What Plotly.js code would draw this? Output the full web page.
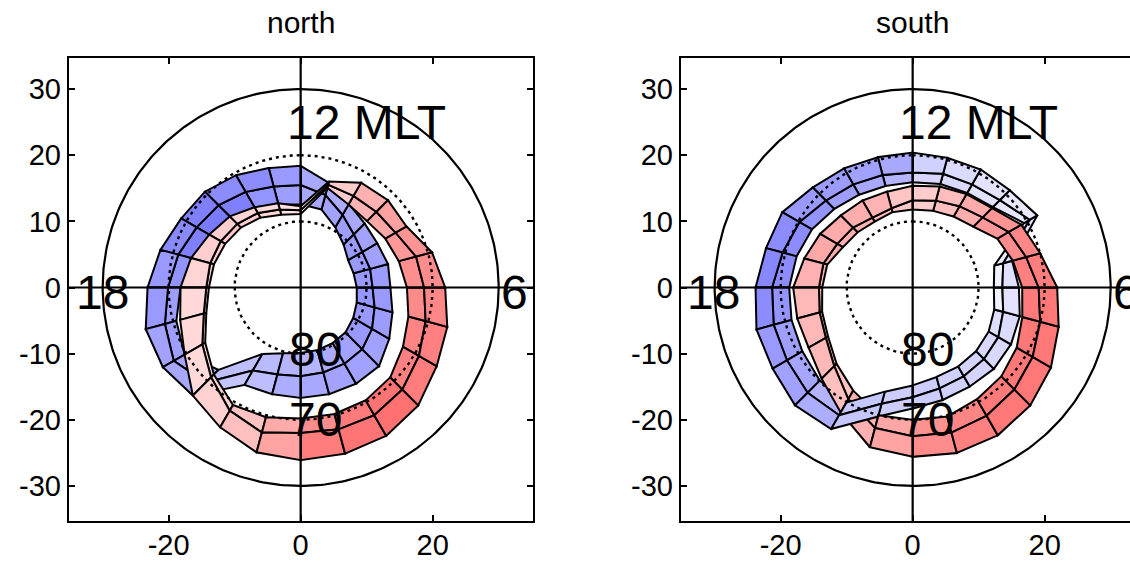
<!DOCTYPE html>
<html><head><meta charset="utf-8">
<script src="https://cdn.plot.ly/plotly-3.0.1.min.js"></script>
<style>body{margin:0;background:#fff}#chart{width:1130px;height:565px}</style>
</head><body><div id="chart"></div>
<script>
// ---------- DATA ----------
const panelTitles = ['north', 'south'];
const mltEdges = [0,1,2,3,4,5,6,7,8,9,10,11,12,13,14,15,16,17,18,19,20,21,22,23,24];
const xTickVals = [-20, 0, 20];
const xTickText = ['-20', '0', '20'];
const yTickVals = [-30, -20, -10, 0, 10, 20, 30];
const yTickText = ['-30', '-20', '-10', '0', '10', '20', '30'];
const circleColat = [30, 20, 10];           // 60, 70, 80 deg latitude
const mltLabels = ['12 MLT', '18', '6'];
const latLabels = ['80', '70'];

// colatitude boundaries (deg) at each MLT edge: inner, middle, outer
const nBlueIn  = [9.9, 9.8, 9.7, 9.6, 9.2, 8.8, 8.5, 8.3, 8.3, 9.2, 10.5, 12.2, 12.6, 13.0, 14.0, 14.9, 15.7, 16.8, 18.2, 19.5, 20.3, 17.6, 11.6, 10.3, 9.9];
const nBlueMid = [13.4, 13.3, 13.3, 13.2, 12.5, 11.6, 10.9, 10.9, 10.8, 11.4, 12.7, 14.5, 15.5, 15.8, 16.7, 17.6, 18.2, 19.2, 20.1, 21.3, 22.2, 20.3, 14.5, 13.6, 13.4];
const nBlueOut = [16.7, 16.7, 16.8, 16.8, 15.5, 14.4, 13.6, 13.7, 13.4, 13.7, 14.6, 16.4, 18.4, 18.7, 19.6, 20.5, 20.9, 22.0, 23.2, 24.3, 24.1, 23.1, 17.0, 16.7, 16.7];
const nRedIn   = [19.8, 19.8, 19.7, 19.2, 17.9, 16.9, 16.1, 15.4, 14.8, 14.2, 14.5, 15.6, 11.1, 11.4, 12.2, 12.8, 13.2, 13.6, 13.9, 14.8, 16.7, 18.6, 20.5, 20.3, 19.8];
const nRedMid  = [22.0, 22.2, 22.3, 21.8, 20.7, 19.6, 18.7, 18.1, 16.6, 16.2, 16.0, 16.1, 11.7, 12.2, 13.0, 13.6, 14.0, 14.2, 14.3, 15.2, 17.2, 19.2, 21.5, 22.7, 22.0];
const nRedOut  = [26.1, 26.0, 25.9, 25.2, 23.8, 23.0, 21.9, 20.6, 18.5, 18.7, 18.3, 16.6, 12.3, 13.2, 14.0, 15.2, 16.0, 17.2, 18.2, 18.9, 20.3, 23.1, 24.4, 25.8, 26.1];

const sBlueIn  = [14.8, 14.0, 13.8, 13.6, 13.3, 12.8, 12.3, 12.8, 19.5, 17.2, 16.5, 16.2, 15.9, 15.9, 16.2, 16.8, 17.6, 18.2, 18.7, 19.0, 19.3, 19.9, 20.1, 16.3, 14.8];
const sBlueMid = [16.6, 15.8, 15.5, 15.3, 15.0, 14.2, 13.6, 14.2, 20.5, 18.7, 18.0, 17.8, 17.4, 17.6, 18.0, 18.6, 19.8, 20.4, 21.3, 21.8, 22.0, 22.5, 22.3, 18.2, 16.6];
const sBlueOut = [18.3, 17.6, 17.3, 17.4, 17.2, 16.8, 16.1, 15.6, 21.8, 20.8, 20.6, 20.3, 20.4, 20.4, 20.8, 21.4, 22.8, 23.0, 23.8, 24.5, 24.5, 25.2, 24.7, 20.2, 18.3];
const sRedIn   = [20.0, 20.2, 19.5, 19.0, 18.2, 17.2, 16.6, 15.7, 14.8, 13.0, 12.4, 12.0, 11.8, 11.8, 11.5, 11.8, 12.2, 13.4, 13.7, 14.2, 14.8, 16.3, 18.0, 20.0, 20.0];
const sRedMid  = [22.5, 22.7, 22.4, 21.8, 21.0, 20.0, 19.1, 17.8, 16.8, 15.0, 14.2, 13.6, 13.2, 12.4, 12.2, 12.8, 13.2, 14.0, 14.2, 14.6, 15.2, 16.8, 19.5, 22.0, 22.5];
const sRedOut  = [25.6, 25.9, 25.8, 25.2, 24.2, 22.9, 21.9, 20.0, 19.0, 17.0, 16.3, 15.8, 15.4, 15.0, 15.2, 15.4, 16.2, 17.0, 18.1, 18.1, 18.2, 19.5, 21.8, 25.0, 25.6];

// current intensity per MLT bin (bin m spans MLT m..m+1), outer and inner layer
const nBlueOutV = [0.34,0.36,0.37,0.37,0.39,0.40,0.39,0.37,0.36,0.34,0.32,0.34,0.40,0.45,0.45,0.50,0.46,0.40,0.40,0.36,0.34,0.23,0.26,0.32];
const nBlueInV  = [0.29,0.33,0.36,0.40,0.40,0.41,0.40,0.40,0.40,0.38,0.36,0.34,0.38,0.42,0.50,0.52,0.50,0.42,0.38,0.38,0.35,0.25,0.27,0.29];
const nRedOutV  = [0.51,0.54,0.56,0.51,0.50,0.47,0.45,0.42,0.37,0.31,0.20,0.15,0.12,0.14,0.17,0.19,0.19,0.17,0.15,0.15,0.15,0.18,0.25,0.36];
const nRedInV   = [0.45,0.52,0.55,0.50,0.48,0.46,0.44,0.40,0.35,0.30,0.20,0.05,0.10,0.16,0.20,0.22,0.20,0.18,0.15,0.15,0.15,0.18,0.24,0.33];
const sBlueOutV = [0.20,0.18,0.17,0.15,0.14,0.11,0.12,0.12,0.09,0.11,0.14,0.18,0.34,0.37,0.39,0.40,0.45,0.47,0.45,0.40,0.37,0.32,0.22,0.20];
const sBlueInV  = [0.20,0.18,0.17,0.15,0.13,0.05,0.05,0.08,0.10,0.12,0.15,0.16,0.29,0.34,0.38,0.42,0.45,0.45,0.42,0.38,0.35,0.30,0.22,0.20];
const sRedOutV  = [0.45,0.50,0.53,0.53,0.53,0.53,0.51,0.47,0.42,0.33,0.26,0.20,0.23,0.30,0.32,0.33,0.34,0.31,0.28,0.28,0.28,0.25,0.31,0.36];
const sRedInV   = [0.43,0.48,0.52,0.53,0.53,0.52,0.50,0.45,0.40,0.32,0.25,0.20,0.22,0.28,0.30,0.32,0.33,0.30,0.27,0.26,0.26,0.24,0.30,0.35];

// ---------- BUILD ----------
function pt(r, mlt){ const a = (12 - mlt) * Math.PI / 12; return [r*Math.sin(a), r*Math.cos(a)]; }
function blueColor(v){ const c = Math.round(255*(1-v)); return 'rgb('+c+','+c+',255)'; }
function redColor(v){ const c = Math.round(255*(1-v)); return 'rgb(255,'+c+','+c+')'; }
const traces = [];
function cell(rA, rB, m, color, xa, ya){
  const p = [pt(rA[m], mltEdges[m]), pt(rA[m+1], mltEdges[m+1]), pt(rB[m+1], mltEdges[m+1]), pt(rB[m], mltEdges[m]), pt(rA[m], mltEdges[m])];
  traces.push({type:'scatter', mode:'lines', x:p.map(q=>q[0]), y:p.map(q=>q[1]), xaxis:xa, yaxis:ya,
    fill:'toself', fillcolor:color, line:{color:'#000', width:2}, hoverinfo:'skip', showlegend:false});
}
function ring(rIn, rMid, rOut, vIn, vOut, colorFn, xa, ya, bins){
  bins.forEach(m => { cell(rIn, rMid, m, colorFn(vIn[m]), xa, ya); cell(rMid, rOut, m, colorFn(vOut[m]), xa, ya); });
}
const allBins = [...Array(24).keys()];
// north: blue below red
ring(nBlueIn, nBlueMid, nBlueOut, nBlueInV, nBlueOutV, blueColor, 'x', 'y', allBins);
ring(nRedIn, nRedMid, nRedOut, nRedInV, nRedOutV, redColor, 'x', 'y', allBins);
// south: blue below red, except the blue cell crossing near midnight which lies on top
ring(sBlueIn, sBlueMid, sBlueOut, sBlueInV, sBlueOutV, blueColor, 'x2', 'y2', allBins.filter(m => m !== 22));
ring(sRedIn, sRedMid, sRedOut, sRedInV, sRedOutV, redColor, 'x2', 'y2', allBins);
ring(sBlueIn, sBlueMid, sBlueOut, sBlueInV, sBlueOutV, blueColor, 'x2', 'y2', [22]);

// latitude circles and axis cross
[['x','y'],['x2','y2']].forEach(([xa, ya]) => {
  circleColat.forEach((r, i) => {
    const xs = [], ys = [];
    for (let k = 0; k <= 360; k++){ const a = k*Math.PI/180; xs.push(r*Math.sin(a)); ys.push(r*Math.cos(a)); }
    traces.push({type:'scatter', mode:'lines', x:xs, y:ys, xaxis:xa, yaxis:ya, hoverinfo:'skip', showlegend:false,
      line:{color:'#000', width: i === 0 ? 2.2 : 2.4, dash: i === 0 ? 'solid' : '3px,4px'}});
  });
  traces.push({type:'scatter', mode:'lines', x:[-40, 40], y:[0, 0], xaxis:xa, yaxis:ya, hoverinfo:'skip', showlegend:false, line:{color:'#000', width:2.2}});
  traces.push({type:'scatter', mode:'lines', x:[0, 0], y:[-40, 40], xaxis:xa, yaxis:ya, hoverinfo:'skip', showlegend:false, line:{color:'#000', width:2.2}});
});

const font = 'Arial, "Liberation Sans", Helvetica, sans-serif';
const axBase = {showline:true, linecolor:'#000', linewidth:2.2, ticks:'inside', ticklen:6, tickwidth:2, tickcolor:'#000',
  showgrid:false, zeroline:false, fixedrange:true, tickfont:{family:font, size:29, color:'#000'}};
const xr = [-35.1, 35.2], yr = [-35.3, 34.7];
const layout = {
  width:1130, height:565, margin:{l:69, r:0, t:58, b:44}, paper_bgcolor:'#fff', plot_bgcolor:'#fff', showlegend:false,
  xaxis: Object.assign({}, axBase, {domain:[0, 0.4373], range:xr, tickvals:xTickVals, ticktext:xTickText, mirror:'ticks', anchor:'y', ticklabelstandoff:-3}),
  yaxis: Object.assign({}, axBase, {domain:[0, 1], range:yr, tickvals:yTickVals, ticktext:yTickText, mirror:'ticks', anchor:'x'}),
  xaxis2: Object.assign({}, axBase, {domain:[0.5768, 1], range:[-35.1, 32.93], tickvals:xTickVals, ticktext:xTickText, mirror:'ticks', anchor:'y2', ticklabelstandoff:-3}),
  yaxis2: Object.assign({}, axBase, {domain:[0, 1], range:yr, tickvals:yTickVals, ticktext:yTickText, mirror:false, anchor:'x2'}),
  annotations: []
};
[['x','y'],['x2','y2']].forEach(([xa, ya], i) => {
  layout.annotations.push({xref:xa, yref:'paper', x:0, y:1.076, text:panelTitles[i], showarrow:false, xanchor:'center', yanchor:'middle', font:{family:font, size:30, color:'#000'}});
  const big = {family:font, size:48, color:'#000'};
  layout.annotations.push({xref:xa, yref:ya, x:-2.4, y:25.0, text:mltLabels[0], showarrow:false, xanchor:'left', yanchor:'middle', font:big});
  layout.annotations.push({xref:xa, yref:ya, x:-30.1, y:-0.8, text:mltLabels[1], showarrow:false, xanchor:'center', yanchor:'middle', font:big});
  layout.annotations.push({xref:xa, yref:ya, x:32.4, y:-0.8, text:mltLabels[2], showarrow:false, xanchor:'center', yanchor:'middle', font:big});
  layout.annotations.push({xref:xa, yref:ya, x:2.3, y:-9.4, text:latLabels[0], showarrow:false, xanchor:'center', yanchor:'middle', font:big});
  layout.annotations.push({xref:xa, yref:ya, x:2.3, y:-20.0, text:latLabels[1], showarrow:false, xanchor:'center', yanchor:'middle', font:big});
});
Plotly.newPlot('chart', traces, layout, {staticPlot:true, displayModeBar:false});
</script></body></html>
